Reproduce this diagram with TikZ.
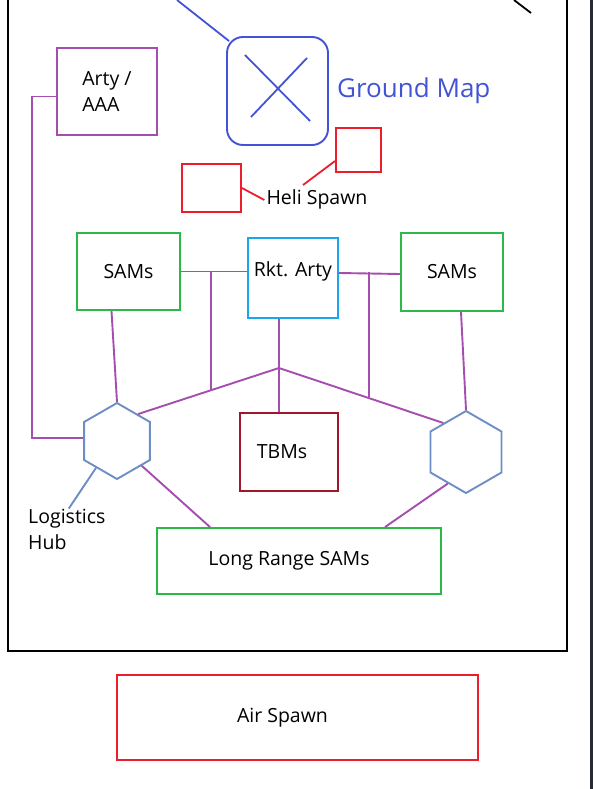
\documentclass[tikz,border=0pt]{standalone}
\usepackage{fontspec}
\setmainfont{Open Sans}
\usetikzlibrary{shapes.geometric,calc}
\definecolor{mapblue}{HTML}{4353D6}
\definecolor{link}{HTML}{A64DB0}
\definecolor{samgreen}{HTML}{2DB84A}
\definecolor{rktcyan}{HTML}{1AA7EA}
\definecolor{tbmred}{HTML}{A0172E}
\definecolor{spawnred}{HTML}{EE1D2B}
\definecolor{hubblue}{HTML}{6C8EC4}
\definecolor{edgebar}{HTML}{262B33}
\tikzset{
  unitbox/.style={draw, line width=1.9pt, inner sep=0pt, align=center,
    font=\fontsize{19.5}{26}\selectfont},
  artybox/.style={unitbox, draw=link, align=left},
  sambox/.style={unitbox, draw=samgreen},
  rktbox/.style={unitbox, draw=rktcyan},
  tbmbox/.style={unitbox, draw=tbmred},
  spawnbox/.style={unitbox, draw=spawnred},
  mapbox/.style={draw=mapblue, line width=1.9pt, rounded corners=16pt, inner sep=0pt},
  hubshape/.style={regular polygon, regular polygon sides=6, shape border rotate=30,
    draw=hubblue, line width=1.9pt, inner sep=0pt},
  linkline/.style={draw=link, line width=1.9pt},
  hubline/.style={draw=hubblue, line width=1.9pt},
  plaintext/.style={inner sep=0pt, font=\fontsize{19.5}{26}\selectfont}
}
\begin{document}
\begin{tikzpicture}[x=1pt, y=-1pt]
    \useasboundingbox (0,0) rectangle (593,789);
    \draw[line width=1.9pt] (8,-2) -- (8,651) -- (567,651) -- (567,-2);
    \draw[line width=3pt, edgebar] (591,0) -- (591,789);
    \coordinate (stray1) at (514,0);
    \coordinate (stray2) at (531,13);
    \draw[line width=1.8pt] (stray1) -- (stray2);

    \node[mapbox, minimum width=101pt, minimum height=108pt] (map) at (277.5,91) {};
    \draw[mapblue, line width=1.8pt] (245,55) -- (310,121);
    \draw[mapblue, line width=1.8pt] (251,117) -- (307,58);
    \coordinate (mapfeed) at (177,0);
    \draw[mapblue, line width=1.8pt] (mapfeed) -- ([shift={(3pt,-5pt)}]map.north west);
    \node[anchor=west, inner sep=0pt, text=mapblue, font=\fontsize{26}{31}\selectfont] (maptitle) at (337,91) {Ground Map};

    \node[artybox, minimum width=100pt, minimum height=87pt] (arty) at (107,91.5) {Arty /\\AAA};

    \node[spawnbox, minimum width=59pt, minimum height=48pt] (heli1) at (211.5,188) {};
    \node[spawnbox, minimum width=45pt, minimum height=44pt] (heli2) at (358.5,150) {};
    \node[plaintext] (helitext) at (317,199) {Heli Spawn};
    \draw[spawnred, line width=1.8pt] (heli1.east) -- ([shift={(-2pt,-1pt)}]helitext.west);
    \draw[spawnred, line width=1.8pt] ([yshift=-11pt]heli2.west) -- ([shift={(-14pt,4pt)}]helitext.north);

    \node[sambox, minimum width=103pt, minimum height=77pt] (sams1) at (128.5,271.5) {SAMs};
    \node[rktbox, minimum width=90pt, minimum height=80pt] (rkt) at (293,278) {\raisebox{7pt}[\height][\depth]{Rkt. Arty}};
    \node[sambox, minimum width=102pt, minimum height=78pt] (sams2) at (452,272) {SAMs};
    \node[tbmbox, minimum width=98pt, minimum height=78pt] (tbm) at (289,452) {\hspace*{-14pt}TBMs};
    \node[sambox, minimum width=284pt, minimum height=66pt] (lrs) at (299,561) {\hspace*{-20pt}Long Range SAMs};
    \node[spawnbox, minimum width=361pt, minimum height=85pt] (air) at (297.5,717.5) {\hspace*{-30pt}Air Spawn};

    \node[hubshape, minimum size=76pt] (hub1) at (117,441) {};
    \node[hubshape, minimum size=82pt] (hub2) at (466,452) {};
    \node[plaintext, anchor=west, align=left] (hublabel) at (28,529) {Logistics\\Hub};
    \draw[hubline] (hub1.232) -- ([xshift=2pt]hublabel.north);

    \coordinate (spine) at (279,368);
    \coordinate (tapL) at (211,390);
    \coordinate (tapR) at (369,397);
    \draw[linkline] ([yshift=-5pt]arty.west) -- ++(-24pt,0) |- ([yshift=3pt]hub1.west);
    \draw[linkline] ([xshift=-17pt]sams1.south) -- (hub1.north);
    \draw[linkline] ([xshift=9pt]sams2.south) -- (hub2.north);
    \draw[linkline] (sams1.east) -- (sams1.east -| rkt.west);
    \draw[linkline] (tapL |- sams1.east) -- (tapL);
    \draw[linkline] ([yshift=5pt]rkt.east) -- ([yshift=-2pt]sams2.west);
    \draw[linkline] (tapR |- sams2.west) -- (tapR);
    \draw[linkline] (spine |- rkt.south) -- (spine |- tbm.north);
    \draw[linkline] (hub1.52) -- (spine) -- (hub2.128);
    \draw[linkline] (hub1.-45) -- ([xshift=-89pt]lrs.north);
    \draw[linkline] (hub2.240) -- ([xshift=86pt]lrs.north);
  \end{tikzpicture}
\end{document}
